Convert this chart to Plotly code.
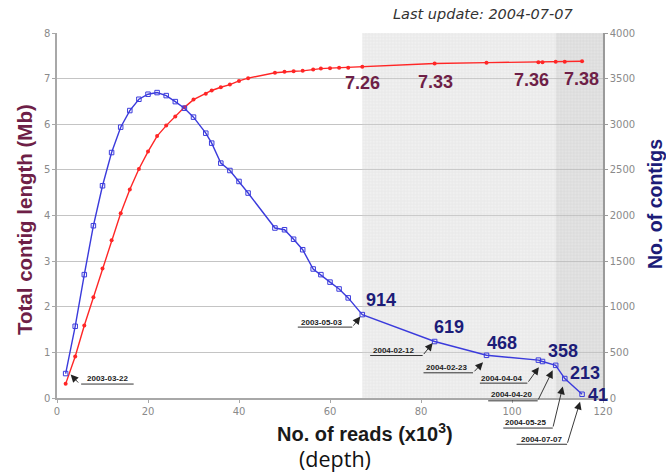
import plotly.graph_objects as go

# Sequencing depth (thousands of reads) at each assembly run
reads = [1.9, 4.0, 6.0, 8.0, 10.0, 12.0, 14.0, 16.0, 18.0, 20.0, 22.0, 24.0, 26.0,
         28.0, 30.0, 32.7, 34.0, 36.0, 38.0, 40.0, 42.0, 47.9, 50.0, 52.0, 54.0,
         56.3, 58.0, 60.0, 62.0, 64.0, 67.1, 83.0, 94.4, 105.8, 106.7, 109.6,
         111.6, 115.4]
# Total contig length (Mb)
contig_length = [0.31, 0.91, 1.59, 2.21, 2.84, 3.46, 4.05, 4.57, 5.02, 5.40, 5.74,
                 5.97, 6.17, 6.37, 6.54, 6.67, 6.74, 6.81, 6.87, 6.95, 7.01, 7.13,
                 7.15, 7.16, 7.17, 7.20, 7.22, 7.23, 7.24, 7.24, 7.26, 7.33, 7.35,
                 7.36, 7.36, 7.37, 7.37, 7.38]
# Number of contigs
contig_count = [268, 786, 1352, 1888, 2326, 2690, 2968, 3150, 3274, 3329, 3347, 3314,
                3248, 3176, 3078, 2902, 2793, 2574, 2493, 2373, 2246, 1863, 1844,
                1740, 1625, 1414, 1352, 1270, 1195, 1097, 914, 619, 468, 415, 400,
                358, 213, 41]

# Dated assembly snapshots
snap_dates = ["2003-03-22", "2003-05-03", "2004-02-12", "2004-02-23",
              "2004-04-04", "2004-04-20", "2004-05-25", "2004-07-07"]
snap_reads = [1.9, 67.1, 83.0, 94.4, 105.8, 109.6, 111.6, 115.4]
# snapshots whose values are printed
count_labelled = ["2003-05-03", "2004-02-12", "2004-02-23", "2004-04-20",
                  "2004-05-25", "2004-07-07"]
length_labelled = ["2003-05-03", "2004-02-12", "2004-04-04", "2004-07-07"]

last_update = "2004-07-07"

x_ticks = [0, 20, 40, 60, 80, 100, 120]
y_ticks = [0, 1, 2, 3, 4, 5, 6, 7, 8]
y2_ticks = [0, 500, 1000, 1500, 2000, 2500, 3000, 3500, 4000]

# ---------------------------------------------------------------- layout geometry
W, H = 666, 473
ML, MR, MT, MB = 57, 63, 33, 75
PW, PH = W - ML - MR, H - MT - MB

RED = "#ff2626"
BLUE = "#3b3bdc"
MAROON = "#6e1f47"
NAVY = "#1c1c78"


def paper_x(px):
    return (px - ML) / PW


def paper_y(py):
    return (H - MB - py) / PH


def idx(date):
    return reads.index(snap_reads[snap_dates.index(date)])


# pixel offsets (screen, y down) of each date tag relative to its point:
# text centre, underline (x0, x1, y), arrow tip, and which underline end the leader leaves
tag_layout = {
    "2003-03-22": dict(text=(42, 4.5), line=(14, 68, 10.5), tip=(5, 1), start="left"),
    "2003-05-03": dict(text=(-41, 7.5), line=(-66, -10, 12.5), tip=(-2, 2), start="right"),
    "2004-02-12": dict(text=(-41, 9), line=(-66, -12, 14), tip=(-2, 1.5), start="right"),
    "2004-02-23": dict(text=(-40.5, 12), line=(-64.5, -13.5, 17.5), tip=(-3.5, 7), start="right"),
    "2004-04-04": dict(text=(-37, 18), line=(-60, -11, 23), tip=(0.5, 7), start="right"),
    "2004-04-20": dict(text=(-44, 29.5), line=(-69, -18, 35.5), tip=(-3, 5), start="right"),
    "2004-05-25": dict(text=(-39, 44), line=(-63, -12, 49.5), tip=(-2, 8), start="right"),
    "2004-07-07": dict(text=(-41, 45), line=(-67, -15, 50), tip=(-2, 7.5), start="right"),
}
count_label_offset = {
    "2003-05-03": (19, -14.6), "2004-02-12": (14, -14.5), "2004-02-23": (15.5, -12.6),
    "2004-04-20": (7, -14.6), "2004-05-25": (20, -5.6), "2004-07-07": (16, 0.7),
}
length_label_offset = {
    "2003-05-03": (0, 16.5), "2004-02-12": (1, 18), "2004-04-04": (-7, 18),
    "2004-07-07": (-1, 18),
}

fig = go.Figure()

# shaded periods: after the 2003-05-03 assembly, and the final runs
shade_start = snap_reads[snap_dates.index("2003-05-03")]
dark_start = snap_reads[snap_dates.index("2004-04-20")]
x_max = x_ticks[-1]
y_max = y_ticks[-1]
for x0, x1, bg, fg in [
        (shade_start, dark_start, "rgba(215,215,215,0.38)", "rgba(175,175,175,0.40)"),
        (dark_start, x_max, "rgba(200,200,200,0.50)", "rgba(165,165,165,0.45)")]:
    fig.add_trace(go.Scatter(
        x=[x0, x1, x1, x0, x0], y=[0, 0, y_max, y_max, 0],
        mode="lines", line=dict(width=0), fill="toself", fillcolor=bg,
        fillpattern=dict(shape="+", size=3.2, solidity=0.25, fgcolor=fg, bgcolor=bg),
        hoverinfo="skip", showlegend=False))

fig.add_trace(go.Scatter(
    x=reads, y=contig_length, mode="lines+markers", name="Total contig length",
    line=dict(color=RED, width=1.4),
    marker=dict(symbol="circle", size=4, color=RED),
    showlegend=False))

fig.add_trace(go.Scatter(
    x=reads, y=contig_count, mode="lines+markers", name="No. of contigs", yaxis="y2",
    line=dict(color=BLUE, width=1.4),
    marker=dict(symbol="square-open", size=4.5, color=BLUE, line=dict(width=1)),
    showlegend=False))

annotations = []
center = dict(xanchor="center", yanchor="middle")

# value labels
for d in count_labelled:
    i = idx(d)
    dx, dy = count_label_offset[d]
    annotations.append(dict(
        x=reads[i], y=contig_count[i], xref="x", yref="y2", showarrow=False,
        text=str(contig_count[i]), xshift=dx, yshift=-dy, **center,
        font=dict(family="Liberation Sans, Arial", size=18, color=NAVY, weight="bold")))
for d in length_labelled:
    i = idx(d)
    dx, dy = length_label_offset[d]
    annotations.append(dict(
        x=reads[i], y=contig_length[i], xref="x", yref="y", showarrow=False,
        text=f"{contig_length[i]:.2f}", xshift=dx, yshift=-dy, **center,
        font=dict(family="Liberation Sans, Arial", size=18, color=MAROON, weight="bold")))

# date tags with underline and leader arrow
for d in snap_dates:
    i = idx(d)
    g = tag_layout[d]
    x, y = reads[i], contig_count[i]
    tx, ty = g["text"]
    ux0, ux1, uy = g["line"]
    px_, py_ = g["tip"]
    sx = ux0 if g["start"] == "left" else ux1
    annotations.append(dict(
        x=x, y=y, xref="x", yref="y2", showarrow=False, text=d,
        xshift=tx, yshift=-ty, **center,
        font=dict(family="Liberation Sans, Arial", size=8,
                  color="#222222", weight="bold")))
    annotations.append(dict(
        x=x, y=y, xref="x", yref="y2", text="", showarrow=True,
        xshift=ux1, yshift=-uy, ax=ux0 - ux1, ay=0,
        arrowhead=0, arrowwidth=1, arrowcolor="#333333"))
    annotations.append(dict(
        x=x, y=y, xref="x", yref="y2", text="", showarrow=True,
        xshift=px_, yshift=-py_, ax=sx - px_, ay=uy - py_,
        arrowhead=2, arrowsize=1.7, arrowwidth=0.9, arrowcolor="#222222"))

# axis titles
annotations += [
    dict(x=paper_x(365), y=paper_y(432), xref="paper", yref="paper", showarrow=False,
         text="No. of reads (x10<sup>3</sup>)", **center,
         font=dict(family="Liberation Sans, Arial", size=20, color="#1a1a1a", weight="bold")),
    dict(x=paper_x(335), y=paper_y(458), xref="paper", yref="paper", showarrow=False,
         text="(depth)", **center, font=dict(family="Open Sans", size=21.5, color="#111111")),
    dict(x=paper_x(24), y=paper_y(220), xref="paper", yref="paper", showarrow=False,
         text="Total contig length (Mb)", textangle=-90, **center,
         font=dict(family="Liberation Sans, Arial", size=20.5, color=MAROON, weight="bold")),
    dict(x=paper_x(655), y=paper_y(204), xref="paper", yref="paper", showarrow=False,
         text="No. of contigs", textangle=-90, **center,
         font=dict(family="Liberation Sans, Arial", size=19.5, color=NAVY, weight="bold")),
    dict(x=paper_x(483), y=paper_y(14), xref="paper", yref="paper", showarrow=False,
         text=f"Last update: {last_update}", **center,
         font=dict(family="DejaVu Sans", size=14.5, color="#333333", style="italic")),
]

tick_font = dict(family="DejaVu Sans", size=10, color="#8a8a8a")
fig.update_layout(
    width=W, height=H, margin=dict(l=ML, r=MR, t=MT, b=MB),
    paper_bgcolor="white", plot_bgcolor="white",
    xaxis=dict(range=[0, x_max], tickmode="array", tickvals=x_ticks, tickfont=tick_font,
               showgrid=False, zeroline=False, showline=True, linecolor="#a8a8a8",
               linewidth=1.5, ticks="outside", ticklen=3, tickcolor="#a8a8a8"),
    yaxis=dict(range=[0, y_max], tickmode="array", tickvals=y_ticks, tickfont=tick_font,
               showgrid=True, gridcolor="#c4c4c4", gridwidth=1, zeroline=False,
               showline=True, linecolor="#a8a8a8", linewidth=1.5,
               ticks="outside", ticklen=3, tickcolor="#a8a8a8"),
    yaxis2=dict(range=[0, y2_ticks[-1]], tickmode="array", tickvals=y2_ticks,
                tickfont=tick_font, overlaying="y", side="right", showgrid=False,
                zeroline=False, showline=True, linecolor="#9a9a9a", linewidth=1.5,
                ticks="outside", ticklen=3, tickcolor="#9a9a9a"),
    annotations=annotations,
    showlegend=False,
)

fig.write_html("out.html")
